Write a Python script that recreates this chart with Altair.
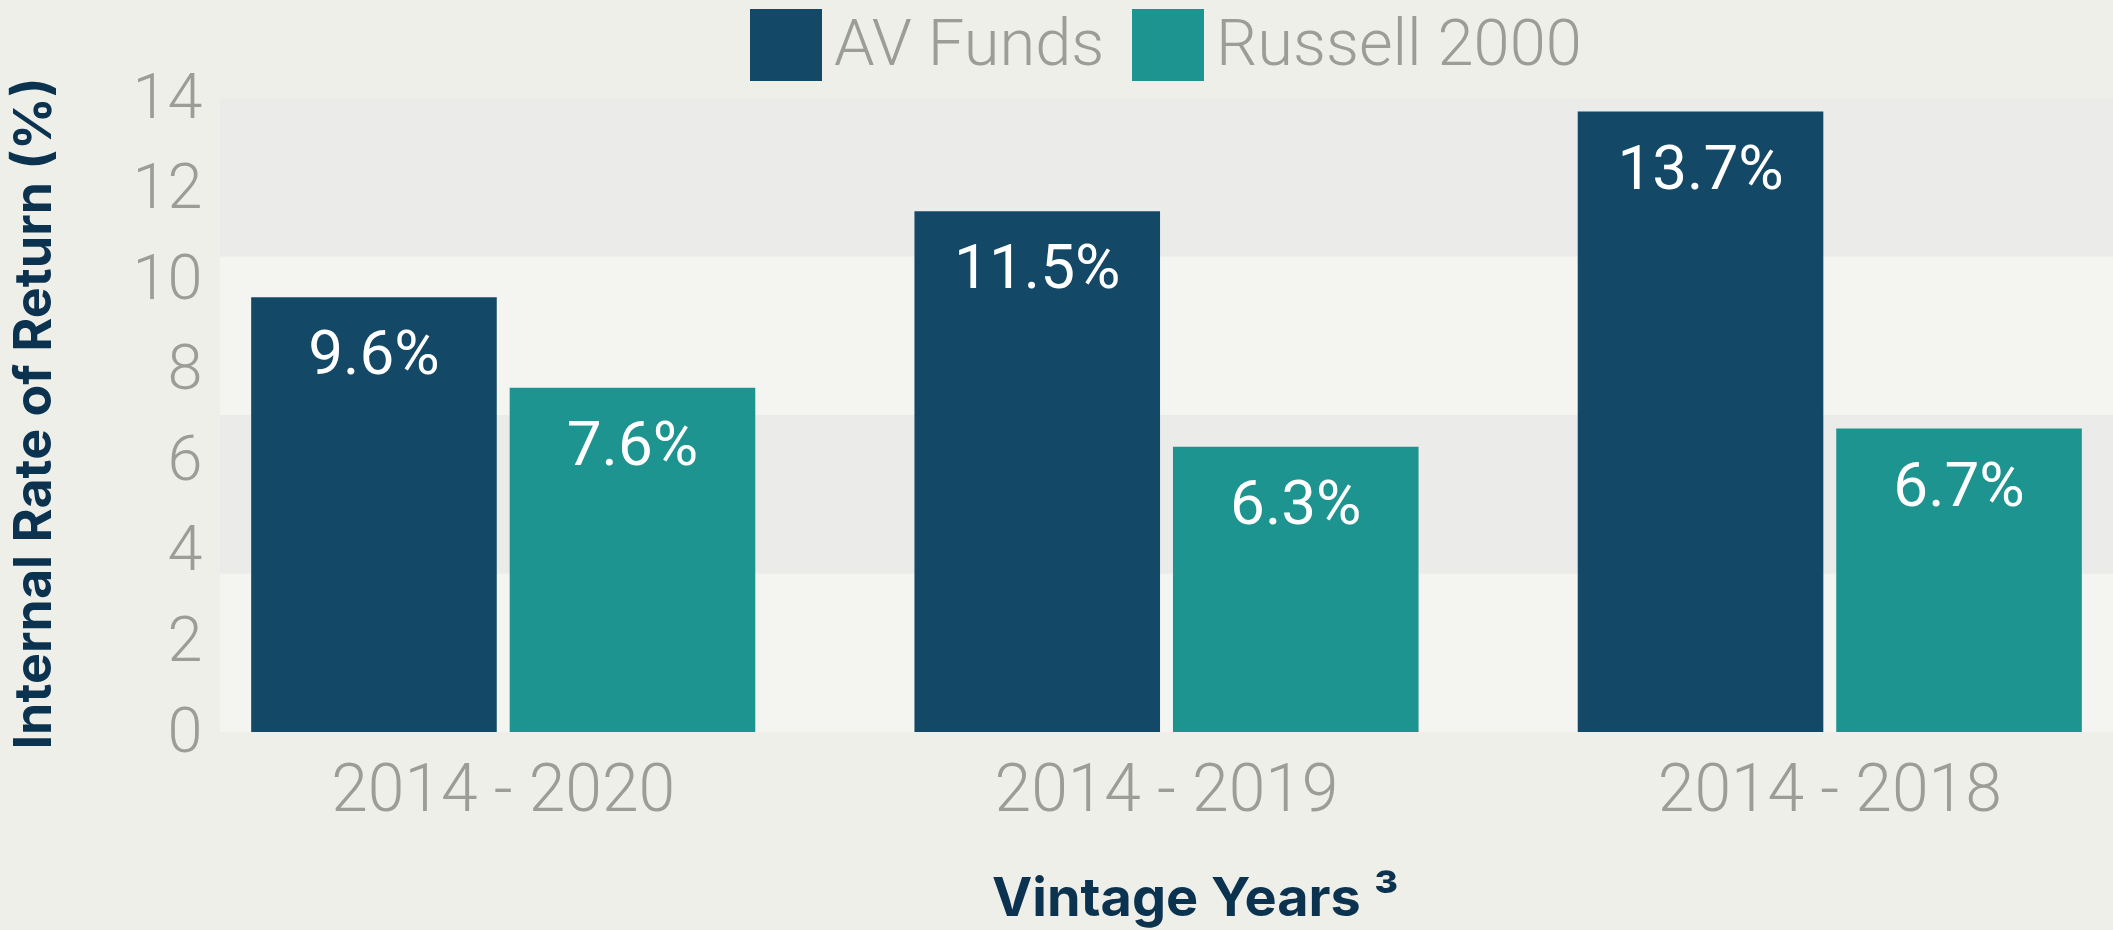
import altair as alt
import pandas as pd

categories = ["2014 - 2020", "2014 - 2019", "2014 - 2018"]
series = ["AV Funds", "Russell 2000"]
av_values = [9.6, 11.5, 13.7]
russell_values = [7.6, 6.3, 6.7]
series_colors = ["#134866", "#1D9490"]
band_lo = [0, 3.5, 7, 10.5]
band_hi = [3.5, 7, 10.5, 14]
band_colors = ["#F4F5F0", "#EBEBE9", "#F4F5F0", "#EBEBE9"]
y_ticks = [0, 2, 4, 6, 8, 10, 12, 14]

rows = []
for c, a, r in zip(categories, av_values, russell_values):
    rows.append({"period": c, "series": series[0], "value": a, "label": f"{a:.1f}%"})
    rows.append({"period": c, "series": series[1], "value": r, "label": f"{r:.1f}%"})
df = pd.DataFrame(rows)
bands = pd.DataFrame({"lo": band_lo, "hi": band_hi, "color": band_colors})

W, H = 1893, 634
GRAY = "#9D9D98"
NAVY = "#0B3350"

yscale = alt.Scale(domain=[0, 14], nice=False, zero=True)

yaxis = alt.Axis(
    values=y_ticks, title="Internal Rate of Return (%)",
    labelFont="Roboto", labelFontSize=63, labelFontWeight=300, labelColor=GRAY,
    labelPadding=18, ticks=False, domain=False, grid=False,
    titleFont="Inter", titleFontSize=52, titleFontWeight="bold", titleColor=NAVY,
    titleAngle=270, titleX=-186, titleY=315, titleBaseline="middle", titleAlign="center",
)
xaxis = alt.Axis(
    title="Vintage Years ³", labelFont="Roboto", labelFontSize=66, labelFontWeight=300,
    labelColor=GRAY, labelPadding=26, labelLimit=0, ticks=False, domain=False, labelAngle=0,
    grid=False,
    titleFont="Inter", titleFontSize=54, titleFontWeight="bold", titleColor=NAVY,
    titleX=975, titleY=167, titleBaseline="middle", titleAlign="center",
)
legend = alt.Legend(
    title=None, orient="none", legendX=530, legendY=-89, direction="horizontal",
    symbolType="square", symbolSize=5184, symbolStrokeWidth=0, symbolOpacity=1,
    labelFont="Roboto", labelFontSize=65, labelFontWeight=300, labelColor=GRAY,
    labelOffset=12, columnPadding=27, padding=0, labelLimit=0,
)

band_layer = alt.Chart(bands).mark_rect().encode(
    x=alt.value(0), x2=alt.value(W),
    y=alt.Y("lo:Q", scale=yscale, axis=yaxis),
    y2="hi:Q",
    fill=alt.Fill("color:N", scale=None, legend=None),
)

xenc = alt.X("period:N", sort=categories,
             scale=alt.Scale(paddingInner=0.24, paddingOuter=0.047), axis=xaxis)
xoff = alt.XOffset("series:N", sort=series, scale=alt.Scale(paddingInner=0.05))
yenc = alt.Y("value:Q", scale=yscale, axis=yaxis)

bars = alt.Chart(df).mark_bar().encode(
    x=xenc, xOffset=xoff, y=yenc,
    color=alt.Color("series:N", sort=series,
                    scale=alt.Scale(domain=series, range=series_colors), legend=legend),
)
text = alt.Chart(df).mark_text(
    font="Roboto", fontSize=62, baseline="middle", dy=58, color="white"
).encode(x=xenc, xOffset=xoff, y=yenc, text="label:N")

chart = alt.layer(band_layer, bars, text).properties(
    width=W, height=H,
    padding={"left": 220, "top": 98, "right": 0, "bottom": 198},
    autosize=alt.AutoSizeParams(type="none"),
).configure(background="#EFEFEA").configure_view(stroke=None)

chart.save("out.html", embed_options={"renderer": "svg", "actions": False})
